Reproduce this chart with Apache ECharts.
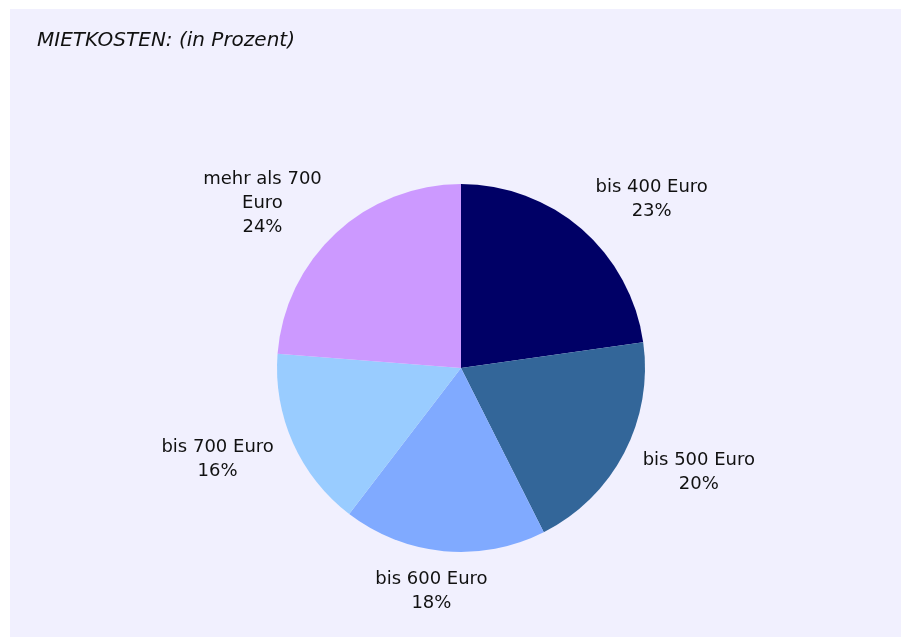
<!DOCTYPE html>
<html>
<head>
<meta charset="utf-8">
<script src="https://cdn.jsdelivr.net/npm/echarts@6/dist/echarts.min.js"></script>
<style>
  body { margin: 0; background: #ffffff; }
  #chart { position: absolute; left: 10px; top: 9px; width: 891px; height: 628px; }
</style>
</head>
<body>
<div id="chart"></div>
<script>
// Mietkosten, Anteile in Prozent
var categories = ['bis 400 Euro', 'bis 500 Euro', 'bis 600 Euro', 'bis 700 Euro', 'mehr als 700\nEuro'];
var values = [23, 20, 18, 16, 24];
var colors = ['#000066', '#336699', '#80aaff', '#99ccff', '#cc99ff'];

var cx = 451, cy = 359, radius = 184;

var total = 0;
for (var i = 0; i < values.length; i++) total += values[i];

// Mittelwinkel je Stück (ab 12 Uhr, im Uhrzeigersinn)
function midAngle(idx) {
    var sum = 0;
    for (var i = 0; i < idx; i++) sum += values[i];
    return (sum + values[idx] / 2) / total * 2 * Math.PI;
}

var chart = echarts.init(document.getElementById('chart'));
var option = {
    backgroundColor: '#f1f0fe',
    animation: false,
    title: {
        text: 'MIETKOSTEN: (in Prozent)',
        left: 22,
        top: 17,
        textStyle: {
            fontFamily: 'DejaVu Sans',
            fontStyle: 'italic',
            fontWeight: 'normal',
            fontSize: 20,
            color: '#111111'
        }
    },
    series: [{
        type: 'pie',
        center: [cx, cy],
        radius: radius,
        startAngle: 90,
        clockwise: true,
        itemStyle: { borderWidth: 0 },
        label: {
            show: true,
            position: 'outside',
            fontFamily: 'DejaVu Sans',
            fontSize: 18,
            lineHeight: 24,
            color: '#111111',
            formatter: function (p) { return p.name + '\n' + p.value + '%'; }
        },
        labelLine: { show: false },
        // Text beginnt an einer Ellipse um den Kreis, nach außen ausgerichtet
        labelLayout: function (p) {
            var a = midAngle(p.dataIndex);
            var sx = Math.sin(a), sy = -Math.cos(a);
            var hw = p.labelRect.width / 2;
            var shift = hw * (sx < 0 ? -1 : 1) * Math.min(1, Math.abs(sx) / 0.5);
            return {
                x: cx + 205 * sx + shift,
                y: cy + 224 * sy,
                align: 'center',
                verticalAlign: 'middle'
            };
        },
        data: categories.map(function (c, i) {
            return { name: c, value: values[i], itemStyle: { color: colors[i] } };
        })
    }]
};
chart.setOption(option);
</script>
</body>
</html>
